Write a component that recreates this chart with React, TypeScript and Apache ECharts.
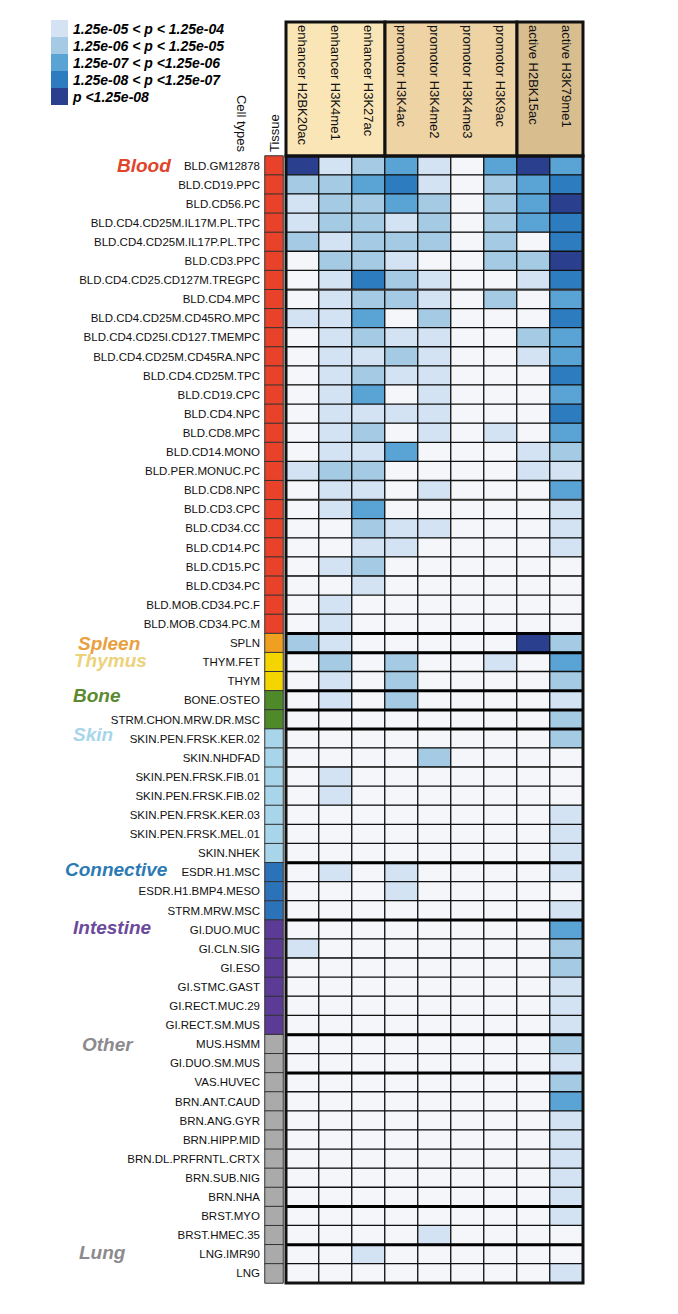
import React, { useEffect, useRef } from "react";
import * as echarts from "echarts";

// ---------- DATA ----------
const marks = [
  "enhancer H2BK20ac",
  "enhancer H3K4me1",
  "enhancer H3K27ac",
  "promotor H3K4ac",
  "promotor H3K4me2",
  "promotor H3K4me3",
  "promotor H3K9ac",
  "active H2BK15ac",
  "active H3K79me1",
];

const markGroups = ["enhancer", "promotor", "active"];
const markGroupStart = [0, 3, 7];
const markGroupEnd = [2, 6, 8];

const cellTypes = [
  "BLD.GM12878", "BLD.CD19.PPC", "BLD.CD56.PC", "BLD.CD4.CD25M.IL17M.PL.TPC",
  "BLD.CD4.CD25M.IL17P.PL.TPC", "BLD.CD3.PPC", "BLD.CD4.CD25.CD127M.TREGPC", "BLD.CD4.MPC",
  "BLD.CD4.CD25M.CD45RO.MPC", "BLD.CD4.CD25I.CD127.TMEMPC", "BLD.CD4.CD25M.CD45RA.NPC",
  "BLD.CD4.CD25M.TPC", "BLD.CD19.CPC", "BLD.CD4.NPC", "BLD.CD8.MPC", "BLD.CD14.MONO",
  "BLD.PER.MONUC.PC", "BLD.CD8.NPC", "BLD.CD3.CPC", "BLD.CD34.CC", "BLD.CD14.PC",
  "BLD.CD15.PC", "BLD.CD34.PC", "BLD.MOB.CD34.PC.F", "BLD.MOB.CD34.PC.M",
  "SPLN", "THYM.FET", "THYM", "BONE.OSTEO", "STRM.CHON.MRW.DR.MSC",
  "SKIN.PEN.FRSK.KER.02", "SKIN.NHDFAD", "SKIN.PEN.FRSK.FIB.01", "SKIN.PEN.FRSK.FIB.02",
  "SKIN.PEN.FRSK.KER.03", "SKIN.PEN.FRSK.MEL.01", "SKIN.NHEK",
  "ESDR.H1.MSC", "ESDR.H1.BMP4.MESO", "STRM.MRW.MSC",
  "GI.DUO.MUC", "GI.CLN.SIG", "GI.ESO", "GI.STMC.GAST", "GI.RECT.MUC.29", "GI.RECT.SM.MUS",
  "MUS.HSMM", "GI.DUO.SM.MUS", "VAS.HUVEC", "BRN.ANT.CAUD", "BRN.ANG.GYR", "BRN.HIPP.MID",
  "BRN.DL.PRFRNTL.CRTX", "BRN.SUB.NIG", "BRN.NHA", "BRST.MYO", "BRST.HMEC.35",
  "LNG.IMR90", "LNG",
];

const tissues = ["Blood", "Spleen", "Thymus", "Bone", "Skin", "Connective", "Intestine", "Other", "Lung"];

const tissueOfRow = [
  "Blood", "Blood", "Blood", "Blood", "Blood", "Blood", "Blood", "Blood", "Blood", "Blood",
  "Blood", "Blood", "Blood", "Blood", "Blood", "Blood", "Blood", "Blood", "Blood", "Blood",
  "Blood", "Blood", "Blood", "Blood", "Blood",
  "Spleen", "Thymus", "Thymus", "Bone", "Bone",
  "Skin", "Skin", "Skin", "Skin", "Skin", "Skin", "Skin",
  "Connective", "Connective", "Connective",
  "Intestine", "Intestine", "Intestine", "Intestine", "Intestine", "Intestine",
  "Other", "Other", "Other", "Other", "Other", "Other", "Other", "Other", "Other", "Other", "Other",
  "Lung", "Lung",
];

// row (0-based) where each tissue's label sits
const tissueLabelRow = [0, 25, 26, 28, 30, 37, 40, 46, 57];

// significance level per cell type (0 = not significant), one array per mark
const h2bk20ac = [5,2,1,1,2,0,0,0,1,0, 0,0,0,0,0,0,1,0,0,0, 0,0,0,0,0,2,0,0,0,0, 0,0,0,0,0,0,0,0,0,0, 0,1,0,0,0,0,0,0,0,0, 0,0,0,0,0,0,0,0,0];
const h3k4me1  = [1,2,2,2,1,2,1,1,1,1, 1,1,1,1,1,1,2,1,1,0, 0,1,0,1,1,1,2,1,1,0, 0,0,1,1,0,0,0,1,0,0, 0,0,0,0,0,0,0,0,0,0, 0,0,0,0,0,0,0,0,0];
const h3k27ac  = [2,3,2,2,2,2,4,2,3,2, 1,2,3,1,2,1,2,1,3,2, 1,2,1,0,0,0,0,0,0,0, 0,0,0,0,0,0,0,0,0,0, 0,0,0,0,0,0,0,0,0,0, 0,0,0,0,0,0,0,1,0];
const h3k4ac   = [3,4,3,1,2,1,2,2,0,1, 2,1,0,1,0,3,0,0,0,1, 1,0,0,0,0,0,2,2,2,0, 0,0,0,0,0,0,0,1,1,0, 0,0,0,0,0,0,0,0,0,0, 0,0,0,0,0,0,0,0,0];
const h3k4me2  = [1,1,2,2,2,0,1,1,2,1, 1,1,1,1,1,0,0,1,0,1, 0,0,0,0,0,0,0,0,0,0, 0,2,0,0,0,0,0,0,0,0, 0,0,0,0,0,0,0,0,0,0, 0,0,0,0,0,0,1,0,0];
const h3k4me3  = [0,0,0,0,0,0,0,0,0,0, 0,0,0,0,0,0,0,0,0,0, 0,0,0,0,0,0,0,0,0,0, 0,0,0,0,0,0,0,0,0,0, 0,0,0,0,0,0,0,0,0,0, 0,0,0,0,0,0,0,0,0];
const h3k9ac   = [3,2,2,2,2,2,0,2,0,0, 0,0,0,0,1,0,0,0,0,0, 0,0,0,0,0,0,1,0,0,0, 0,0,0,0,0,0,0,0,0,0, 0,0,0,0,0,0,0,0,0,0, 0,0,0,0,0,0,0,0,0];
const h2bk15ac = [5,3,3,3,0,2,1,0,0,2, 1,0,0,0,0,1,1,0,0,0, 0,0,0,0,0,5,0,0,0,0, 0,0,0,0,0,0,0,0,0,0, 0,0,0,0,0,0,0,0,0,0, 0,0,0,0,0,0,0,0,0];
const h3k79me1 = [3,4,5,4,4,5,4,3,4,3, 3,4,3,4,3,2,1,3,1,1, 1,0,0,0,0,2,3,2,1,2, 2,0,0,0,1,1,1,1,0,1, 3,2,2,1,1,1,2,1,2,3, 1,1,1,1,1,1,0,0,1];

const markValues = [h2bk20ac, h3k4me1, h3k27ac, h3k4ac, h3k4me2, h3k4me3, h3k9ac, h2bk15ac, h3k79me1];

const levelLabels = [
  "1.25e-05 < p < 1.25e-04",
  "1.25e-06 < p < 1.25e-05",
  "1.25e-07 < p <1.25e-06",
  "1.25e-08 < p <1.25e-07",
  "p <1.25e-08",
];

// rows (0-based) after which a separator line is drawn
const separatorAfter = [6, 17, 24, 25, 27, 28, 29, 36, 39, 45, 47, 54, 56];
const lightSeparators = [6, 17];

// ---------- STYLE ----------
const FONT = "'Liberation Sans', Arial, Helvetica, sans-serif";
const levelColors = ["#f4f6f9", "#d3e3f3", "#a4cae4", "#5aa3d5", "#2d7cc0", "#2b3f8f"];
const groupColors = ["#fae5b7", "#eed3a4", "#d8bd8f"];
const tissueColors: Record<string, string> = {
  Blood: "#e8432a",
  Spleen: "#f0a020",
  Thymus: "#f5d500",
  Bone: "#4f8a2a",
  Skin: "#a8d5ea",
  Connective: "#2c72b8",
  Intestine: "#5b3b95",
  Other: "#aaaaaa",
  Lung: "#aaaaaa",
};
const tissueTextColors: Record<string, string> = {
  Blood: "#e2432b",
  Spleen: "#eaa03e",
  Thymus: "#ecd27a",
  Bone: "#5b8a30",
  Skin: "#a8d5ea",
  Connective: "#2c7ab4",
  Intestine: "#6b4a9c",
  Other: "#8c8a8e",
  Lung: "#8c8a8e",
};
const tissueLabelLeft = [117, 78, 74, 73, 73, 65, 73, 82, 79];
const tissueLabelDy = [0, 0, -2, -5, -4, -3, -2, 0, -2];

const GRID_LEFT = 286;
const GRID_TOP = 156;
const GRID_W = 297;
const GRID_H = 1127;

function buildOption() {
  const cells: number[][] = [];
  markValues.forEach((arr, c) => {
    arr.forEach((v, r) => cells.push([c, r, v]));
  });

  const tissueCells = tissueOfRow.map((t, r) => [0, r, tissues.indexOf(t)]);

  return {
    animation: false,
    textStyle: { fontFamily: FONT },
    grid: [
      { left: GRID_LEFT, top: GRID_TOP, width: GRID_W, height: GRID_H },
      { left: 265, top: GRID_TOP, width: 18, height: GRID_H },
      { left: GRID_LEFT, top: 22, width: GRID_W, height: GRID_TOP - 22 },
    ],
    xAxis: [
      { type: "category", gridIndex: 0, data: marks, show: false },
      {
        type: "category",
        gridIndex: 1,
        data: ["Tissue"],
        position: "top",
        axisLine: { show: false },
        axisTick: { show: false },
        axisLabel: { rotate: -90, margin: 4, fontSize: 13, color: "#111", fontFamily: FONT },
      },
      { type: "category", gridIndex: 2, data: marks, show: false },
    ],
    yAxis: [
      { type: "category", gridIndex: 0, data: cellTypes, inverse: true, show: false },
      {
        type: "category",
        gridIndex: 1,
        data: cellTypes,
        inverse: true,
        axisLine: { show: false },
        axisTick: { show: false },
        axisLabel: { interval: 0, margin: 5, fontSize: 11.5, color: "#111", fontFamily: FONT },
      },
      { type: "category", gridIndex: 2, data: ["header"], show: false },
    ],
    visualMap: [
      {
        type: "piecewise",
        seriesIndex: 0,
        dimension: 2,
        orient: "vertical",
        inverse: true,
        left: 36,
        top: 5,
        itemWidth: 17,
        itemHeight: 17,
        itemGap: 0,
        textGap: 5,
        itemSymbol: "rect",
        selectedMode: false,
        pieces: levelLabels.map((label, i) => ({ value: i + 1, label, color: levelColors[i + 1] })),
        outOfRange: { color: levelColors[0] },
        textStyle: {
          fontSize: 14,
          fontStyle: "italic",
          fontWeight: "bold",
          color: "#000",
          fontFamily: FONT,
        },
      },
      {
        type: "piecewise",
        show: false,
        seriesIndex: 1,
        dimension: 2,
        pieces: tissues.map((t, i) => ({ value: i, label: t, color: tissueColors[t] })),
      },
    ],
    series: [
      {
        type: "heatmap",
        xAxisIndex: 0,
        yAxisIndex: 0,
        data: cells,
        itemStyle: { borderColor: "#111", borderWidth: 1.3 },
        emphasis: { disabled: true },
      },
      {
        type: "heatmap",
        xAxisIndex: 1,
        yAxisIndex: 1,
        data: tissueCells,
        itemStyle: { borderColor: "#333", borderWidth: 1 },
        emphasis: { disabled: true },
      },
      {
        type: "custom",
        xAxisIndex: 0,
        yAxisIndex: 0,
        coordinateSystem: "cartesian2d",
        encode: { x: 0, y: 1 },
        data: separatorAfter.map((r) => [0, r, lightSeparators.includes(r) ? 1 : 2]),
        renderItem: (params: any, api: any) => {
          const cs = params.coordSys;
          const row = api.value(1);
          const h = api.size([0, 1])[1];
          const y = api.coord([0, row])[1] + h / 2;
          const heavy = api.value(2) === 2;
          return {
            type: "line",
            shape: { x1: cs.x, y1: y, x2: cs.x + cs.width, y2: y },
            style: { stroke: heavy ? "#000" : "#333", lineWidth: heavy ? 3 : 2 },
          };
        },
        z: 5,
      },
      {
        type: "custom",
        xAxisIndex: 0,
        yAxisIndex: 0,
        coordinateSystem: "cartesian2d",
        encode: { x: 0, y: 1 },
        data: [[0, 0]],
        renderItem: (params: any) => {
          const cs = params.coordSys;
          return {
            type: "rect",
            shape: { x: cs.x, y: cs.y, width: cs.width, height: cs.height },
            style: { fill: "none", stroke: "#111", lineWidth: 3 },
          };
        },
        z: 6,
      },
      {
        type: "custom",
        xAxisIndex: 2,
        yAxisIndex: 2,
        coordinateSystem: "cartesian2d",
        encode: { x: [0, 1], y: 2 },
        data: markGroups.map((g, i) => [markGroupStart[i], markGroupEnd[i], 0]),
        renderItem: (params: any, api: any) => {
          const cs = params.coordSys;
          const bw = api.size([1, 0])[0];
          const x0 = api.coord([api.value(0), 0])[0] - bw / 2;
          const x1 = api.coord([api.value(1), 0])[0] + bw / 2;
          return {
            type: "rect",
            shape: { x: x0, y: cs.y, width: x1 - x0, height: cs.height },
            style: { fill: groupColors[params.dataIndex], stroke: "#111", lineWidth: 3 },
          };
        },
        z: 2,
      },
      {
        type: "custom",
        xAxisIndex: 2,
        yAxisIndex: 2,
        coordinateSystem: "cartesian2d",
        encode: { x: 0, y: 1 },
        data: marks.map((m, i) => [i, 0]),
        renderItem: (params: any, api: any) => {
          const cs = params.coordSys;
          const x = api.coord([api.value(0), 0])[0];
          return {
            type: "text",
            x,
            y: cs.y + 3,
            rotation: -Math.PI / 2,
            style: {
              text: marks[params.dataIndex],
              fill: "#111",
              fontSize: 13,
              fontFamily: FONT,
              align: "left",
              verticalAlign: "middle",
            },
          };
        },
        z: 3,
      },
      {
        type: "custom",
        xAxisIndex: 1,
        yAxisIndex: 1,
        coordinateSystem: "cartesian2d",
        encode: { x: 0, y: 1 },
        data: tissues.map((t, i) => [0, tissueLabelRow[i], i]),
        renderItem: (params: any, api: any) => {
          const i = params.dataIndex;
          const t = tissues[i];
          const y = api.coord([0, api.value(1)])[1] + tissueLabelDy[i];
          return {
            type: "text",
            x: tissueLabelLeft[i],
            y,
            style: {
              text: t,
              fill: tissueTextColors[t],
              fontSize: 19,
              fontWeight: "bold",
              fontStyle: "italic",
              fontFamily: FONT,
              align: "left",
              verticalAlign: "middle",
            },
          };
        },
        z: 5,
      },
    ],
    graphic: [
      {
        type: "text",
        x: 241,
        y: 152,
        rotation: -Math.PI / 2,
        style: {
          text: "Cell types",
          fill: "#111",
          fontSize: 13,
          fontFamily: FONT,
          align: "right",
          verticalAlign: "middle",
        },
      },
    ],
  };
}

export default function App() {
  const ref = useRef<HTMLDivElement>(null);
  useEffect(() => {
    document.body.style.margin = "0";
    const chart = echarts.init(ref.current!, null, { renderer: "svg" });
    chart.setOption(buildOption() as any);
    return () => chart.dispose();
  }, []);
  return <div ref={ref} style={{ width: 678, height: 1314 }} />;
}
